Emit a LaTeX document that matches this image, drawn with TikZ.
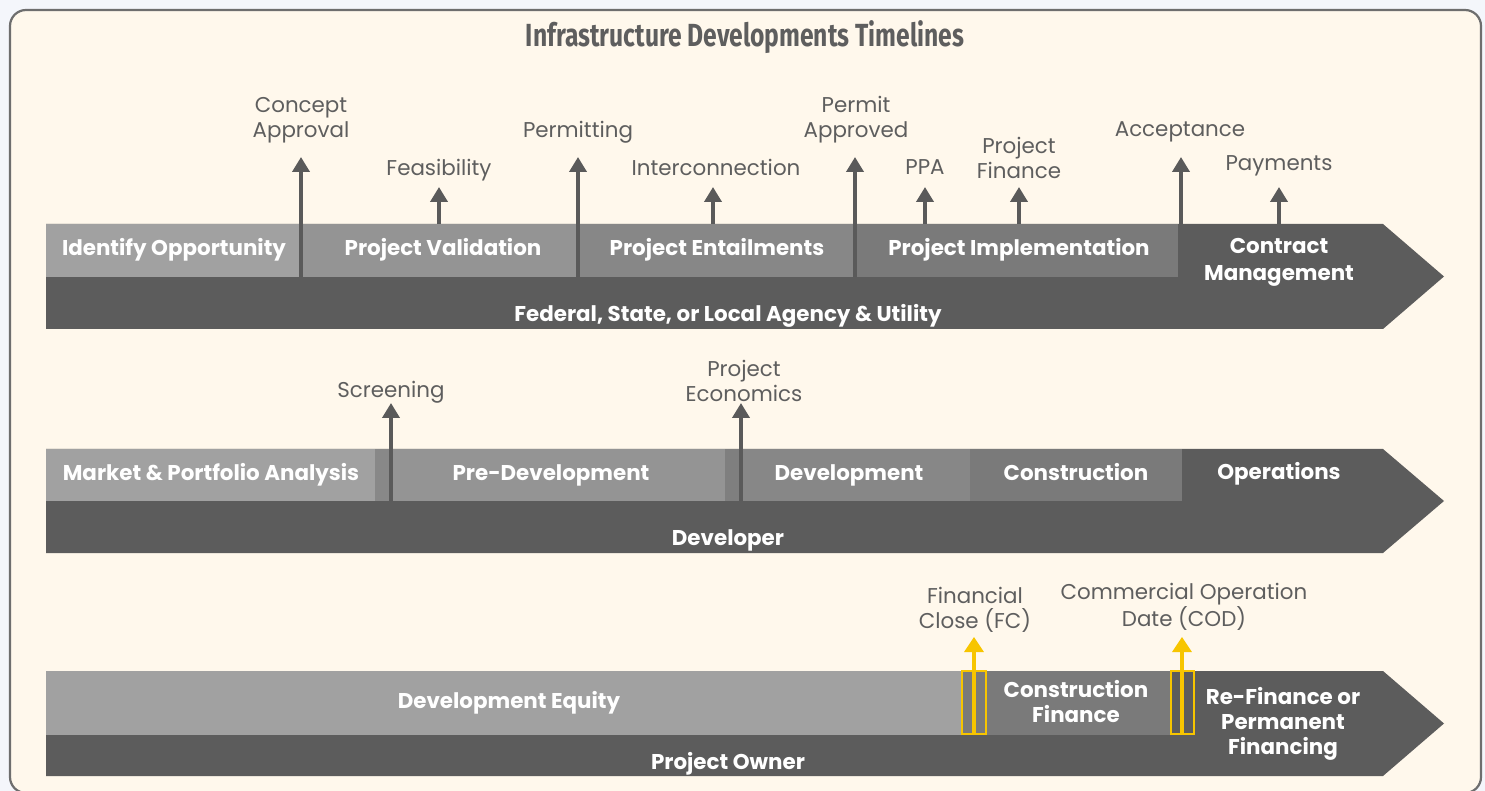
\documentclass[tikz,border=0pt]{standalone}
\usepackage{fontspec}
\setmainfont{Poppins}
\newfontfamily\titlefont[FakeStretch=0.77]{Fira Sans}
\usepackage{xcolor}
\usetikzlibrary{
  calc,
  positioning,
  arrows.meta,
  shapes
}
\definecolor{pagebg}{HTML}{F4F6FB}
\definecolor{cream}{HTML}{FFF8EC}
\definecolor{framegray}{HTML}{6E6E6E}
\definecolor{lanedark}{HTML}{5C5C5C}
\definecolor{segA}{HTML}{A1A1A1}
\definecolor{segB}{HTML}{949494}
\definecolor{segC}{HTML}{878787}
\definecolor{segD}{HTML}{7A7A7A}
\definecolor{labelgray}{HTML}{5E5E5E}
\definecolor{markgray}{HTML}{5A5A5A}
\definecolor{gold}{HTML}{F7C500}
\tikzset{
  >=latex,
  bartxt/.style={text=white, font=\bfseries\fontsize{10.7}{12.5}\selectfont, align=center, inner sep=0pt},
  lbl/.style={text=labelgray, font=\fontsize{10.7}{12.5}\selectfont, align=center, inner sep=0pt},
  mstone/.style={draw=markgray, line width=2.2pt, -{Triangle[width=8.5pt,length=7.5pt]}},
  fcmark/.style={draw=gold, line width=1.6pt, -{Triangle[width=9.5pt,length=7.5pt]}},
  goldbox/.style={draw=gold, line width=1.4pt}
}
% lane arrow: top, tip, bottom
\newcommand{\lanearrow}[3]{\fill[lanedark] (46,#1) -- (1383,#1) -- (1444,#2) -- (1383,#3) -- (46,#3) -- cycle;}

\begin{document}
\begin{tikzpicture}[x=0.5pt,y=-0.5pt]
	\useasboundingbox (0,0) rectangle (1485,791);
	\fill[pagebg] (0,0) rectangle (1485,791);
	\draw[framegray, fill=cream, line width=1.1pt, rounded corners=8pt] (10,10) rectangle (1481,793);

	\node[text=labelgray, font=\titlefont\bfseries\fontsize{16}{18}\selectfont] (title) at (745,37) {Infrastructure Developments Timelines};

	% agency lane
	\lanearrow{224}{276.5}{329}
	\fill[segA] (46,224) rectangle (301,277);
	\fill[segB] (301,224) rectangle (578,277);
	\fill[segC] (578,224) rectangle (855,277);
	\fill[segD] (855,224) rectangle (1178,277);

	\node[bartxt] (idop) at (174,250) {Identify Opportunity};
	\node[bartxt] (pval) at (443,250) {Project Validation};
	\node[bartxt] (pent) at (717,250) {Project Entailments};
	\node[bartxt] (pimp) at (1019,250) {Project Implementation};
	\node[bartxt] (cman) at (1279,262) {Contract\\[1pt]Management};
	\node[bartxt] (agency) at (728,316) {Federal, State, or Local Agency \& Utility};

	\coordinate (ca0) at (301,277);   \coordinate (ca1) at (301,157);
	\coordinate (fe0) at (439,224);   \coordinate (fe1) at (439,187);
	\coordinate (pm0) at (578,277);   \coordinate (pm1) at (578,157);
	\coordinate (ic0) at (713,224);   \coordinate (ic1) at (713,187);
	\coordinate (pa0) at (855,277);   \coordinate (pa1) at (855,157);
	\coordinate (ppa0) at (925,224);  \coordinate (ppa1) at (925,187);
	\coordinate (pf0) at (1019,224);  \coordinate (pf1) at (1019,187);
	\coordinate (ac0) at (1181,224);  \coordinate (ac1) at (1181,157);
	\coordinate (pay0) at (1279,224); \coordinate (pay1) at (1279,187);

	\draw[mstone] (ca0) -- (ca1);
	\draw[mstone] (fe0) -- (fe1);
	\draw[mstone] (pm0) -- (pm1);
	\draw[mstone] (ic0) -- (ic1);
	\draw[mstone] (pa0) -- (pa1);
	\draw[mstone] (ppa0) -- (ppa1);
	\draw[mstone] (pf0) -- (pf1);
	\draw[mstone] (ac0) -- (ac1);
	\draw[mstone] (pay0) -- (pay1);

	\node[lbl] (concept) at (301,120) {Concept\\Approval};
	\node[lbl] (feas) at (439,170) {Feasibility};
	\node[lbl] (permit) at (578,132) {Permitting};
	\node[lbl] (interc) at (716,167) {Interconnection};
	\node[lbl] (papp) at (856,120) {Permit\\Approved};
	\node[lbl] (ppa) at (925,167) {PPA};
	\node[lbl] (pfin) at (1019,158) {Project\\Finance};
	\node[lbl] (accept) at (1180,132) {Acceptance};
	\node[lbl] (paym) at (1279,166) {Payments};

	% developer lane
	\lanearrow{449}{501}{553}
	\fill[segA] (46,449) rectangle (375,501);
	\fill[segB] (375,449) rectangle (725,501);
	\fill[segB!92!black] (375,449) rectangle (393,501);
	\fill[segC] (725,449) rectangle (970,501);
	\fill[segC!94!black] (725,449) rectangle (742,501);
	\fill[segD] (970,449) rectangle (1182,501);

	\node[bartxt] (mpa) at (211,475) {Market \& Portfolio Analysis};
	\node[bartxt] (predev) at (551,475) {Pre-Development};
	\node[bartxt] (dev) at (849,475) {Development};
	\node[bartxt] (constr) at (1076,472) {Construction};
	\node[bartxt] (oper) at (1279,474) {Operations};
	\node[bartxt] (developer) at (728,540) {Developer};

	\coordinate (sc0) at (391,501);  \coordinate (sc1) at (391,403);
	\coordinate (pe0) at (741,501);  \coordinate (pe1) at (741,403);
	\draw[mstone] (sc0) -- (sc1);
	\draw[mstone] (pe0) -- (pe1);

	\node[lbl] (screen) at (391,392) {Screening};
	\node[lbl] (pecon) at (744,381) {Project\\Economics};

	% owner lane
	\lanearrow{671}{723.5}{776}
	\fill[segA] (46,671) rectangle (962,735);
	\fill[segD] (962,671) rectangle (1172,735);

	\node[bartxt] (deveq) at (509,703) {Development Equity};
	\node[bartxt] (cfin) at (1076,702) {Construction\\Finance};
	\node[bartxt] (refin) at (1283,724) {Re-Finance or\\Permanent\\Financing};
	\node[bartxt] (owner) at (728,764) {Project Owner};

	\draw[goldbox] (962,671) rectangle (986,734);
	\draw[goldbox] (1171,671) rectangle (1194,734);

	\coordinate (fc0) at (974,734);   \coordinate (fc1) at (974,637);
	\coordinate (cod0) at (1182,734); \coordinate (cod1) at (1182,637);
	\draw[fcmark] (fc0) -- (fc1);
	\draw[fcmark] (cod0) -- (cod1);

	\node[lbl] (fclose) at (975,610) {Financial\\Close (FC)};
	\node[lbl] (cod) at (1184,607) {Commercial Operation\\Date (COD)};
\end{tikzpicture}
\end{document}
